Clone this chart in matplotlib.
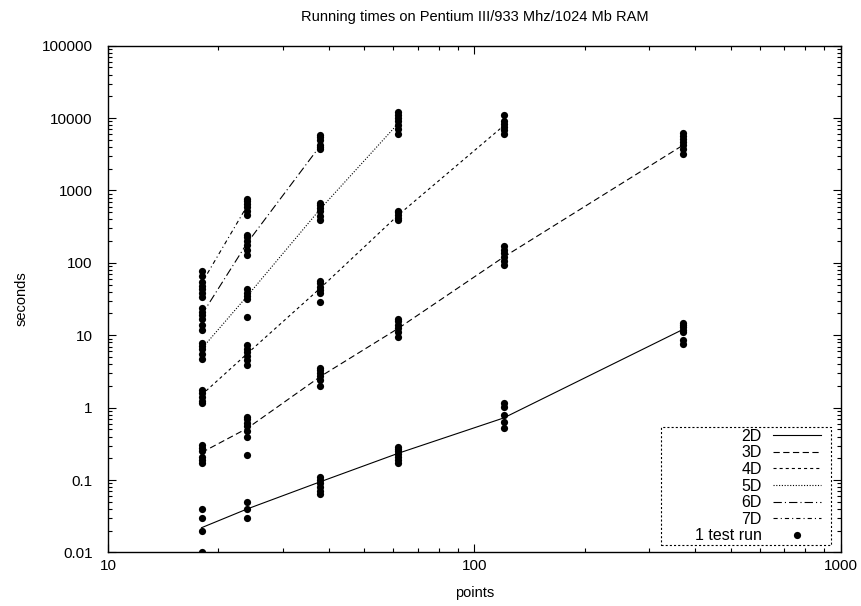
import matplotlib
matplotlib.use("Agg")
import matplotlib.pyplot as plt
from matplotlib.lines import Line2D
from matplotlib.patches import Rectangle

plt.rcParams['font.family'] = ['Liberation Sans', 'DejaVu Sans']
plt.rcParams['lines.scale_dashes'] = False

# problem sizes (x) shared by all runs
points = [18, 24, 38, 62, 120, 370]

# line through the typical run time for each dimension
line_2d = [0.022, 0.040, 0.095, 0.235, 0.72, 12]
line_3d = [0.24, 0.52, 2.7, 12.5, 120, 4200]
line_4d = [1.5, 5.6, 45, 460, 7800]
line_5d = [6.5, 35, 560, 8500]
line_6d = [19, 190, 4200]
line_7d = [52, 620]

# single test runs, one list per column
runs_18 = [0.01, 0.02, 0.03, 0.04,
           0.17, 0.19, 0.21, 0.25, 0.28, 0.31,
           1.15, 1.25, 1.4, 1.6, 1.75,
           4.7, 5.5, 6.5, 7.2, 7.8,
           12, 14, 17, 19, 21, 24,
           34, 38, 44, 48, 55, 65, 77]
runs_24 = [0.03, 0.04, 0.05,
           0.22, 0.40, 0.48, 0.55, 0.62, 0.70, 0.75,
           3.9, 4.5, 5.2, 5.8, 6.5, 7.4,
           18, 32, 35, 38, 43,
           130, 150, 175, 200, 225, 240,
           460, 520, 600, 660, 720, 760]
runs_38 = [0.064, 0.07, 0.08, 0.09, 0.1, 0.11,
           2.0, 2.4, 2.7, 3.0, 3.3, 3.5,
           29, 38, 42, 47, 52, 56,
           390, 450, 520, 580, 640, 680,
           3700, 4000, 4300, 5000, 5400, 5900]
runs_62 = [0.17, 0.19, 0.21, 0.23, 0.25, 0.27, 0.29,
           9.5, 11, 12.5, 14, 16, 17,
           390, 420, 460, 500, 525,
           6000, 7000, 8000, 9000, 10000, 11000, 12000]
runs_120 = [0.52, 0.64, 0.79, 1.03, 1.15,
            93, 105, 120, 135, 150, 170,
            6000, 6800, 7500, 8200, 9200, 11000]
runs_370 = [7.5, 8.5, 11, 12, 13, 14, 15,
            3200, 3800, 4200, 4700, 5200, 5700, 6200]

labels = ["2D", "3D", "4D", "5D", "6D", "7D"]
lines = [line_2d, line_3d, line_4d, line_5d, line_6d, line_7d]
styles = ['-', (0, (4.5, 2.5)), (0, (2.2, 2.2)), (0, (0.8, 1.2)),
          (0, (6, 2.2, 0.8, 2.2)), (0, (3, 2.2, 0.8, 2.2))]
runs = [runs_18, runs_24, runs_38, runs_62, runs_120, runs_370]

fig = plt.figure(figsize=(8.62, 6.06), dpi=100)
ax = fig.add_axes([0.1253, 0.0883, 0.8503, 0.8363])

for lab, vals, ls in zip(labels, lines, styles):
    ax.plot(points[:len(vals)], vals, color='black', lw=0.8, ls=ls, label=lab)

for x, r in zip(points, runs):
    ax.plot([x] * len(r), r, 'o', color='black', ms=5.2, mew=0, zorder=3)

ax.set_xscale('log')
ax.set_yscale('log')
ax.set_xlim(10, 1000)
ax.set_ylim(0.01, 100000)
ax.set_xticks([10, 100, 1000])
ax.set_xticklabels(['10', '100', '1000'])
yt = [0.01, 0.1, 1, 10, 100, 1000, 10000, 100000]
ax.set_yticks(yt)
ax.set_yticklabels(['0.01', '0.1', '1', '10', '100', '1000', '10000', '100000'])
ax.tick_params(which='both', direction='in', top=True, right=True, labelsize=11)
ax.tick_params(axis='y', pad=11)
ax.tick_params(axis='x', pad=5)
ax.tick_params(which='major', length=6, width=0.8)
ax.tick_params(which='minor', length=3, width=0.8)
for s in ax.spines.values():
    s.set_linewidth(1.0)

ax.set_title("Running times on Pentium III/933 Mhz/1024 Mb RAM", fontsize=10.5, pad=18)
ax.set_xlabel("points", fontsize=10.5, labelpad=9)
ax.set_ylabel("seconds", fontsize=10.5)
ax.yaxis.set_label_coords(-0.108, 0.5)

# legend: gnuplot style, text right aligned left of the sample, dotted box
handles, labs = ax.get_legend_handles_labels()
handles.append(Line2D([], [], ls='none', marker='o', color='black', ms=5.2, mew=0))
labs.append("1 test run")
leg = ax.legend(handles, labs, loc='lower right', bbox_to_anchor=(0.9727, 0.018),
                markerfirst=False, fontsize=11.5, handlelength=3.0,
                labelspacing=0.1, handletextpad=0.7, borderpad=0,
                borderaxespad=0, frameon=False)
ax.add_patch(Rectangle((0.7544, 0.0148), 0.232, 0.2328, transform=ax.transAxes,
                       fill=False, ec='black', lw=0.8, ls=(0, (1.5, 1.5)), zorder=4))

fig.savefig("out.png", dpi=100)
